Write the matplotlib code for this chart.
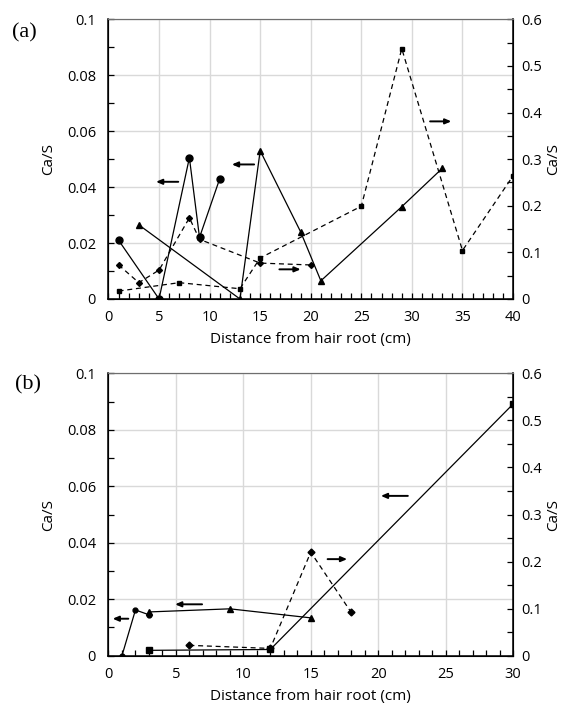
import matplotlib
matplotlib.use("Agg")
import matplotlib.pyplot as plt
from matplotlib.ticker import MultipleLocator

plt.rcParams['font.family'] = ['Open Sans', 'DejaVu Sans']

# ---------------- Panel (a) data ----------------
a_circ_x = [1, 5, 8, 9, 11]
a_circ_y = [0.021, 0.0, 0.0505, 0.022, 0.043]          # left axis
a_tri_x = [3, 13, 15, 19, 21, 29, 33]
a_tri_y = [0.0265, 0.0, 0.053, 0.024, 0.0065, 0.033, 0.0467]  # left axis
a_dia_x = [1, 3, 5, 8, 9, 15, 20]
a_dia_y = [0.073, 0.035, 0.062, 0.174, 0.128, 0.077, 0.073]   # right axis
a_sq_x = [1, 7, 13, 15, 25, 29, 35, 40]
a_sq_y = [0.017, 0.035, 0.022, 0.088, 0.199, 0.537, 0.104, 0.264]  # right axis

# ---------------- Panel (b) data ----------------
b_circ_x = [1, 2, 3]
b_circ_y = [0.0, 0.0162, 0.0145]                       # left axis
b_tri_x = [3, 9, 15]
b_tri_y = [0.0155, 0.0166, 0.0134]                     # left axis
b_sq_x = [3, 12, 30]
b_sq_y = [0.0019, 0.0022, 0.0891]                      # left axis
b_dia_x = [6, 12, 15, 18]
b_dia_y = [0.022, 0.0155, 0.22, 0.092]                 # right axis

x_label = "Distance from hair root (cm)"
y_label = "Ca/S"

fig = plt.figure(figsize=(5.65, 7.04), dpi=100)

GRID = '#d9d9d9'
TICK_FS = 10.5
LABEL_FS = 11


def style_axes(ax, ax2, xmax):
    ax.set_xlim(0, xmax)
    ax.set_ylim(0, 0.1)
    ax2.set_ylim(0, 0.6)
    ax.xaxis.set_major_locator(MultipleLocator(5))
    ax.xaxis.set_minor_locator(MultipleLocator(1))
    ax.yaxis.set_major_locator(MultipleLocator(0.02))
    ax.yaxis.set_minor_locator(MultipleLocator(0.01))
    ax2.yaxis.set_major_locator(MultipleLocator(0.1))
    ax2.yaxis.set_minor_locator(MultipleLocator(0.05))
    ax.yaxis.set_major_formatter(plt.FuncFormatter(lambda v, p: '0' if abs(v) < 1e-9 else ('%g' % round(v, 3))))
    ax2.yaxis.set_major_formatter(plt.FuncFormatter(lambda v, p: '0' if abs(v) < 1e-9 else ('%g' % round(v, 2))))
    ax.grid(True, which='major', color=GRID, lw=1)
    ax.set_axisbelow(True)
    for a in (ax, ax2):
        a.tick_params(which='both', direction='in', length=4, width=0.9, labelsize=TICK_FS, colors='black')
    ax.tick_params(axis='x', which='both', pad=8)
    ax.tick_params(axis='y', which='both', right=False, pad=9)
    ax2.tick_params(axis='y', which='both', left=False, right=True, pad=6)
    ax.spines['top'].set_color('#6e6e6e')
    ax2.spines['top'].set_color('#6e6e6e')
    for s in ('left', 'bottom'):
        ax.spines[s].set_color('black')
        ax.spines[s].set_linewidth(1.1)
    ax2.spines['right'].set_color('black')
    ax2.spines['right'].set_linewidth(1.1)
    ax.set_ylabel(y_label, fontsize=LABEL_FS, labelpad=8)
    ax2.set_ylabel(y_label, fontsize=LABEL_FS, labelpad=3)
    ax.set_xlabel(x_label, fontsize=LABEL_FS, labelpad=5)


def arrow(ax, x_tail, x_head, y):
    ax.annotate('', xy=(x_head, y), xytext=(x_tail, y),
                arrowprops=dict(arrowstyle='-|>,head_length=0.35,head_width=0.15',
                                color='black', lw=1.4, shrinkA=0, shrinkB=0))


# ---------------- Panel (a) ----------------
axA = fig.add_axes([0.192, 0.5753, 0.716, 0.3973])
axA2 = axA.twinx()
axA.plot(a_circ_x, a_circ_y, '-', color='black', lw=0.9, marker='o', ms=5, zorder=3)
axA.plot(a_tri_x, a_tri_y, '-', color='black', lw=0.9, marker='^', ms=5, zorder=3)
axA2.plot(a_dia_x, a_dia_y, '--', color='black', lw=0.9, marker='D', ms=3, dashes=(4, 3))
axA2.plot(a_sq_x, a_sq_y, '--', color='black', lw=0.9, marker='s', ms=3.5, dashes=(4, 3))
style_axes(axA, axA2, 40)
arrow(axA, 6.9, 4.7, 0.0419)
arrow(axA, 14.4, 12.2, 0.0481)
arrow(axA, 16.9, 19.0, 0.0106)
arrow(axA, 31.8, 33.9, 0.0635)
fig.text(0.021, 0.953, '(a)', family=['Liberation Serif', 'DejaVu Serif'], fontsize=16, va='center')

# ---------------- Panel (b) ----------------
axB = fig.add_axes([0.192, 0.0686, 0.716, 0.4011])
axB2 = axB.twinx()
axB.plot(b_circ_x, b_circ_y, '-', color='black', lw=0.9, marker='o', ms=3.5, zorder=3)
axB.plot(b_tri_x, b_tri_y, '-', color='black', lw=0.9, marker='^', ms=4.5, zorder=3)
axB.plot(b_sq_x, b_sq_y, '-', color='black', lw=0.9, marker='s', ms=4, zorder=3)
axB2.plot(b_dia_x, b_dia_y, '--', color='black', lw=0.9, marker='D', ms=3.5, dashes=(4, 3))
style_axes(axB, axB2, 30)
arrow(axB, 1.47, 0.31, 0.0131)
arrow(axB, 6.94, 4.94, 0.0182)
arrow(axB, 22.2, 20.2, 0.0566)
arrow(axB, 16.25, 17.7, 0.0342)
fig.text(0.026, 0.453, '(b)', family=['Liberation Serif', 'DejaVu Serif'], fontsize=16, va='center')

fig.savefig('out.png', dpi=100)
